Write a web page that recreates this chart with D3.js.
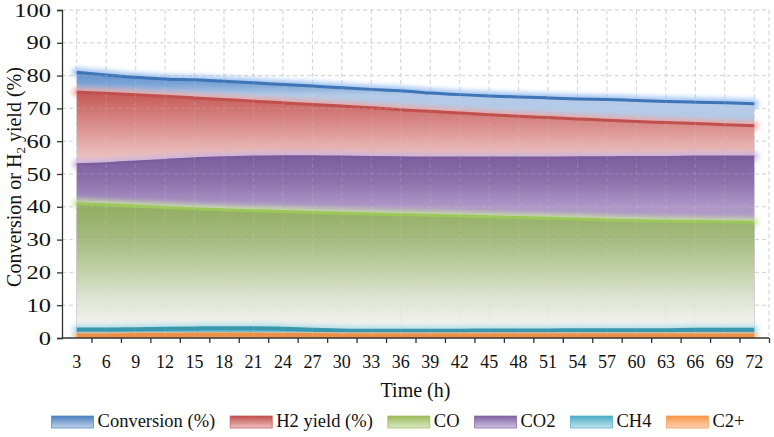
<!DOCTYPE html>
<html><head><meta charset="utf-8">
<script src="https://cdn.jsdelivr.net/npm/d3@7"></script>
<style>
body{margin:0;background:#fff}
svg{display:block}
svg text{font-family:"Liberation Serif","Times New Roman",serif}
</style>
</head><body>
<svg id="c" width="774" height="437"></svg>
<script>
// ---------------- data ----------------
const times = ["3","6","9","12","15","18","21","24","27","30","33","36","39","42","45","48","51","54","57","60","63","66","69","72"];
const conversion = [81.0,80.2,79.5,79.0,78.7,78.3,77.8,77.3,76.8,76.3,75.8,75.4,74.7,74.2,73.8,73.5,73.2,72.9,72.7,72.4,72.1,71.9,71.7,71.4];
const h2Yield    = [75.0,74.6,74.2,73.7,73.2,72.7,72.2,71.7,71.2,70.7,70.2,69.6,69.1,68.6,68.1,67.6,67.2,66.8,66.4,66.0,65.7,65.4,65.0,64.7];
const co         = [41.0,40.6,40.2,39.8,39.4,39.1,38.8,38.6,38.3,38.0,37.8,37.6,37.4,37.2,37.0,36.7,36.5,36.3,36.0,35.8,35.6,35.5,35.4,35.3];
const co2        = [53.0,53.3,53.8,54.3,54.8,55.1,55.3,55.4,55.4,55.3,55.2,55.1,55.0,55.0,55.0,55.0,55.0,55.1,55.1,55.2,55.2,55.3,55.3,55.3];
const ch4        = [2.6,2.6,2.7,2.8,2.9,3.0,3.0,2.8,2.5,2.3,2.2,2.2,2.2,2.2,2.3,2.3,2.3,2.4,2.4,2.4,2.4,2.5,2.5,2.5];
const c2plus     = [0.8,0.8,0.9,0.9,1.0,1.0,1.0,0.9,0.9,0.8,0.8,0.8,0.8,0.8,0.8,0.8,0.8,0.8,0.8,0.8,0.8,0.8,0.8,0.8];
const yTicks = [0,10,20,30,40,50,60,70,80,90,100];
const legendNames = ["Conversion (%)","H2 yield (%)","CO","CO2","CH4","C2+"];

// ---------------- style ----------------
const FONT = "Liberation Serif";
const styles = {
  "Conversion (%)": {values: conversion, line:"#3f74b6", lw:3,   glow:"#8fbaf0", stops:[[0,"#5a8bca"],[0.55,"#7aa3d6"],[1,"#b3cbe8"]], gTop:82, gBot:74, sw:["#4f81bd","#bcd0ea"]},
  "H2 yield (%)":   {values: h2Yield,    line:"#c0504d", lw:3,   glow:"#f0a3a1", stops:[[0,"#c45855"],[0.45,"#d88a88"],[0.85,"#e9b7b6"],[1,"#efc6c5"]], gTop:75, gBot:54, sw:["#c0504d","#efc3c2"]},
  "CO2":            {values: co2,        line:"#7a5b9c", lw:2,   glow:"#c6b0de", stops:[[0,"#7c5d9e"],[0.5,"#8e72ad"],[1,"#ae98c7"]], gTop:55, gBot:40, sw:["#8064a2","#cfc3e0"]},
  "CO":             {values: co,         line:"#9cc85a", lw:3,   glow:"#c9e59f", stops:[[0,"#93ad61"],[0.25,"#a2b97b"],[0.5,"#c2d1a8"],[0.72,"#e0e5d5"],[0.9,"#f2f2ee"],[1,"#f5f5f3"]], gTop:41, gBot:0, sw:["#9bbb59","#d9e8c2"]},
  "CH4":            {values: ch4,        line:"#3b97ad", lw:4,   glow:"#9fd9e9", stops:[[0,"#5fb0c4"],[1,"#8cc9d8"]], gTop:3, gBot:0, sw:["#4bacc6","#c2e4ee"]},
  "C2+":            {values: c2plus,     line:"#ee8f45", lw:4,   glow:"#f9be90", stops:[[0,"#f39a55"],[1,"#f7b27c"]], gTop:1, gBot:0, sw:["#f79646","#fbd3b3"]}
};
const drawOrder = ["Conversion (%)","H2 yield (%)","CO2","CO","CH4","C2+"];

// ---------------- layout ----------------
const L = 62, R = 769, T = 10, B = 338;
const svg = d3.select("#c");
const defs = svg.append("defs");

const x = d3.scaleBand().domain(times).range([L, R]).paddingInner(0).paddingOuter(0);
const xc = d => x(d) + x.bandwidth()/2;
const y = d3.scaleLinear().domain([0,100]).range([B, T]);

const f = defs.append("filter").attr("id","glow").attr("x","-20%").attr("y","-300%").attr("width","140%").attr("height","700%");
f.append("feGaussianBlur").attr("stdDeviation",2.6);

function grid(g, op){
  g.selectAll("line.h").data(yTicks.filter(v=>v>0)).join("line")
    .attr("x1",L).attr("x2",R).attr("y1",d=>y(d)).attr("y2",d=>y(d))
    .attr("stroke","#d4d4d4").attr("stroke-dasharray","4,3").attr("stroke-opacity",op);
  const vx = times.map(xc).concat([R]);
  g.selectAll("line.v").data(vx).join("line")
    .attr("x1",d=>d).attr("x2",d=>d).attr("y1",T).attr("y2",B)
    .attr("stroke","#d4d4d4").attr("stroke-dasharray","4,3").attr("stroke-opacity",op);
}
grid(svg.append("g"), 1);

const plot = svg.append("g");
drawOrder.forEach((name,i)=>{
  const s = styles[name];
  const data = s.values.map((v,j)=>({t:times[j], v}));
  const gid = "grad"+i;
  const gr = defs.append("linearGradient").attr("id",gid).attr("gradientUnits","userSpaceOnUse")
    .attr("x1",0).attr("x2",0).attr("y1",y(s.gTop)).attr("y2",y(s.gBot));
  s.stops.forEach(st=>gr.append("stop").attr("offset",st[0]).attr("stop-color",st[1]));
  const line = d3.line().x(d=>xc(d.t)).y(d=>y(d.v)).curve(d3.curveMonotoneX);
  const area = d3.area().x(d=>xc(d.t)).y0(y(0)).y1(d=>y(d.v)).curve(d3.curveMonotoneX);
  plot.append("path").attr("d",line(data)).attr("fill","none").attr("stroke",s.glow)
    .attr("stroke-width",9).attr("stroke-linecap","round").attr("stroke-opacity",0.85).attr("filter","url(#glow)");
  plot.append("path").attr("d",area(data)).attr("fill","url(#"+gid+")");
  plot.append("path").attr("d",line(data)).attr("fill","none").attr("stroke",s.line)
    .attr("stroke-width",s.lw);
});

grid(svg.append("g"), 0.22);

const axisColor = "#333";
const yAxis = svg.append("g").attr("transform",`translate(${L},0)`)
  .call(d3.axisLeft(y).tickValues(yTicks).tickSize(5).tickPadding(0).tickFormat(d3.format("d")));
yAxis.attr("font-family",FONT);
yAxis.select(".domain").attr("stroke",axisColor).attr("stroke-width",1.3);
yAxis.selectAll(".tick line").attr("stroke",axisColor).attr("stroke-width",1.3);
yAxis.selectAll(".tick text").attr("font-size",18).attr("font-family",FONT).attr("fill","#111")
  .attr("x",null).attr("dy","0.34em").attr("text-anchor","end")
  .attr("transform","translate(-11,0) scale(1.36,1)");

const xAxis = svg.append("g").attr("transform",`translate(0,${B})`)
  .call(d3.axisBottom(x).tickSize(0).tickPadding(17));
xAxis.attr("font-family",FONT);
xAxis.select(".domain").remove();
xAxis.selectAll(".tick text").attr("font-size",18).attr("font-family",FONT).attr("fill","#111");
svg.append("line").attr("x1",L).attr("x2",R).attr("y1",B).attr("y2",B).attr("stroke",axisColor).attr("stroke-width",1.3);
const xb = d3.scaleLinear().domain([0,times.length]).range([L,R]);
const xt = svg.append("g").attr("transform",`translate(0,${B})`)
  .call(d3.axisBottom(xb).tickValues(d3.range(1,times.length+1)).tickSize(5).tickFormat(""));
xt.select(".domain").remove();
xt.selectAll(".tick line").attr("stroke",axisColor).attr("stroke-width",1.3);

svg.append("text").attr("x",(L+R)/2).attr("y",397).attr("text-anchor","middle")
  .attr("font-family",FONT).attr("font-size",20).attr("fill","#111").text("Time (h)");
const yt = svg.append("text").attr("transform","translate(21,177) rotate(-90)").attr("text-anchor","middle")
  .attr("font-family",FONT).attr("font-size",20).attr("fill","#111");
yt.append("tspan").text("Conversion or H");
yt.append("tspan").attr("font-size",13).attr("dy",4).text("2");
yt.append("tspan").attr("dy",-4).text(" yield (%)");

const lg = svg.append("g");
let cx = 0;
const GAP = 15;
legendNames.forEach((n,i)=>{
  const s = styles[n];
  const gid = "lg"+i;
  const gr = defs.append("linearGradient").attr("id",gid).attr("x1",0).attr("x2",0).attr("y1",0).attr("y2",1);
  gr.append("stop").attr("offset",0).attr("stop-color",s.sw[0]);
  gr.append("stop").attr("offset",1).attr("stop-color",s.sw[1]);
  const g = lg.append("g").attr("transform",`translate(${cx},0)`);
  g.append("rect").attr("x",0).attr("y",416).attr("width",42).attr("height",12)
    .attr("fill","url(#"+gid+")").attr("stroke",s.sw[0]).attr("stroke-opacity",0.7).attr("stroke-width",1);
  const t = g.append("text").attr("x",46).attr("y",427).attr("font-family",FONT).attr("font-size",18.5).attr("fill","#111").text(n);
  const w = t.node().getComputedTextLength();
  cx += 46 + w + GAP;
});
const total = cx - GAP;
lg.attr("transform",`translate(${398 - total/2},0)`);
</script>
</body></html>
